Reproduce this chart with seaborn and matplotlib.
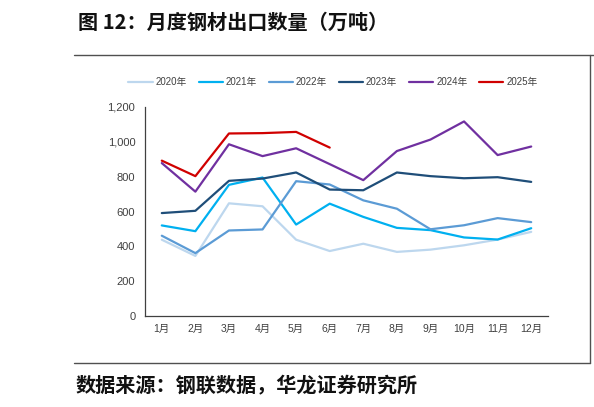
import matplotlib
matplotlib.use("Agg")
import matplotlib.pyplot as plt
import seaborn as sns
import pandas as pd
from matplotlib.lines import Line2D

months = ["1月", "2月", "3月", "4月", "5月", "6月", "7月", "8月", "9月", "10月", "11月", "12月"]
y2020 = [438, 345, 647, 630, 438, 373, 415, 368, 381, 406, 439, 483]
y2021 = [520, 487, 753, 795, 525, 645, 569, 506, 493, 451, 439, 504]
y2022 = [461, 361, 491, 497, 774, 755, 664, 616, 498, 521, 562, 539]
y2023 = [591, 604, 776, 789, 824, 726, 722, 824, 803, 791, 797, 770]
y2024 = [878, 714, 986, 918, 963, 872, 780, 947, 1013, 1117, 924, 973]
y2025 = [892, 803, 1048, 1050, 1057, 967]
series_names = ["2020年", "2021年", "2022年", "2023年", "2024年", "2025年"]
colors = ["#BDD7EE", "#00B0F0", "#5B9BD5", "#1F4E79", "#7030A0", "#D00000"]

rows = []
for name, vals in zip(series_names, [y2020, y2021, y2022, y2023, y2024, y2025]):
    for i, v in enumerate(vals):
        rows.append({"月": i, "值": v, "年": name})
df = pd.DataFrame(rows)

sns.set_theme(style="white")
plt.rcParams['font.family'] = ['Liberation Sans', 'Noto Sans CJK SC', 'DejaVu Sans']

fig = plt.figure(figsize=(5.94, 4.07), dpi=100)
ax = fig.add_axes([145/594, 1-316/407, (548-145)/594, (316-107)/407])
sns.lineplot(data=df, x="月", y="值", hue="年", palette=dict(zip(series_names, colors)),
             hue_order=series_names, linewidth=1.6, ax=ax, legend=False)

ax.set_xlim(-0.5, 11.5)
ax.set_ylim(0, 1200)
ax.set_yticks(range(0, 1201, 200))
ax.set_yticklabels([f"{v:,}" for v in range(0, 1201, 200)], fontsize=8, color="#404040")
ax.set_xticks(range(12))
ax.set_xticklabels(months, fontsize=7.5, color="#404040")
ax.set_xticks([i - 0.5 for i in range(13)], minor=True)
ax.tick_params(axis="x", which="major", length=0, pad=6)
ax.tick_params(axis="x", which="minor", length=4, width=0.8, color="#404040", direction="out")
ax.tick_params(axis="y", which="major", length=4, width=0.8, color="#404040", direction="out", pad=3)
ax.set_xlabel("")
ax.set_ylabel("")
for s in ["top", "right"]:
    ax.spines[s].set_visible(False)
for s in ["left", "bottom"]:
    ax.spines[s].set_color("#404040")
    ax.spines[s].set_linewidth(0.9)

handles = [Line2D([0], [0], color=c, lw=1.6) for c in colors]
fig.legend(handles, series_names, loc="center", bbox_to_anchor=(333/594, 1-82/407), ncol=6,
           frameon=False, fontsize=7, handlelength=2.5, handletextpad=0.3, columnspacing=1.2,
           labelcolor="#404040")

fig.text(78/594, 1-22/407, "图 12：月度钢材出口数量（万吨）", fontsize=14.5, fontweight="bold",
         family=['Noto Sans CJK SC', 'DejaVu Sans'], va="center", ha="left", color="#111111")
fig.text(76/594, 1-385/407, "数据来源：钢联数据，华龙证券研究所", fontsize=14.5, fontweight="bold",
         family=['Noto Sans CJK SC', 'DejaVu Sans'], va="center", ha="left", color="#111111")

fig.add_artist(Line2D([74/594, 1], [1-55/407, 1-55/407], color="#505050", lw=1.0))
fig.add_artist(Line2D([74/594, 590/594], [1-363/407, 1-363/407], color="#505050", lw=1.0))
fig.add_artist(Line2D([590/594, 590/594], [1-55/407, 1-363/407], color="#505050", lw=1.0))

fig.savefig("out.png", dpi=100)
